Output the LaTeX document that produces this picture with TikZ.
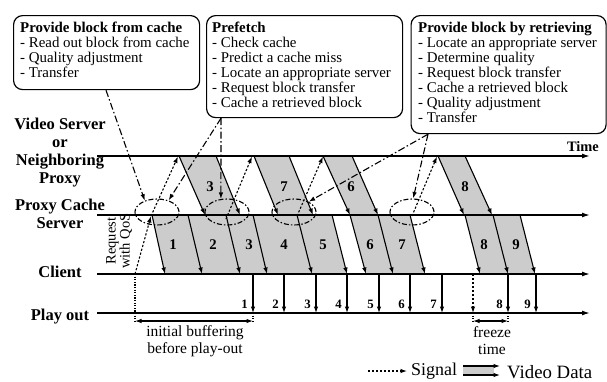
\documentclass[tikz,border=0pt]{standalone}
\usepackage{fontspec}
\setmainfont{Liberation Serif}
\usetikzlibrary{arrows.meta,shapes.geometric}
\begin{document}
\begin{tikzpicture}[x=1bp,y=-1bp,
  tip/.style={-{Latex[length=6.5bp,width=4.5bp]}},
  timeline/.style={line width=1.4bp,-{Latex[length=8bp,width=5bp]}},
  edgearrow/.style={line width=1.1bp,tip},
  bandfill/.style={fill=black!20},
  signal/.style={line width=1.1bp,dash pattern=on 2.2bp off 1.8bp,tip},
  dotline/.style={line width=1.1bp,dash pattern=on 1.2bp off 1.4bp},
  pointer/.style={line width=1.1bp,dash pattern=on 7bp off 2.5bp on 1.5bp off 2.5bp,tip},
  spot/.style={ellipse,draw,line width=1.1bp,dash pattern=on 5bp off 2bp on 1.5bp off 2bp,minimum width=44bp,minimum height=26bp,inner sep=0pt},
  callout/.style={draw,line width=1.2bp,rounded corners=9bp,anchor=north west,inner sep=0pt},
  boxtext/.style={anchor=north west,align=left,inner sep=0pt,font=\fontsize{14.9bp}{15bp}\selectfont},
  lab/.style={anchor=base,font=\fontsize{16.5bp}{18bp}\selectfont\bfseries},
  num/.style={font=\fontsize{14.8bp}{15bp}\selectfont\bfseries},
  pnum/.style={font=\fontsize{12.8bp}{15bp}\selectfont\bfseries},
  note/.style={font=\fontsize{15.5bp}{17bp}\selectfont,align=center},
  dbl/.style={line width=1.1bp,{Latex[length=6.5bp,width=4.5bp]}-{Latex[length=6.5bp,width=4.5bp]}},
]
\useasboundingbox (0,0) rectangle (607,381);

% ---- shaded video data bands ----
\foreach \a/\b/\c/\d in {179/216/240/205, 254/289/313/278, 323/352/378/350, 438/465/492/464}
  \fill[bandfill] (\a,156) -- (\b,156) -- (\c,215) -- (\d,215) -- cycle;
\foreach \a/\b/\c/\d in {152/188/202/165, 188/226/240/202, 226/253/267/240, 253/297/312/267, 297/332/347/312, 350/378/393/366, 378/410/425/393, 465/493/508/480, 493/520/535/508}
  \fill[bandfill] (\a,215) -- (\b,215) -- (\c,274) -- (\d,274) -- cycle;

% ---- row labels ----
\node[lab] (l1) at (60,129) {Video Server};
\node[lab] (l2) at (60,147) {or};
\node[lab] (l3) at (60,165) {Neighboring};
\node[lab] (l4) at (60,183) {Proxy};
\node[lab] (l5) at (60,210) {Proxy Cache};
\node[lab] (l6) at (60,228) {Server};
\node[lab] (l7) at (60,277) {Client};
\node[lab] (l8) at (60,320) {Play out};
\node[anchor=base,font=\fontsize{14.4bp}{15bp}\selectfont\bfseries] (time) at (583,151.5) {Time};

% ---- time lines ----
\coordinate (vsA) at (97,156);  \coordinate (vsB) at (590,156);
\coordinate (pcA) at (97,215);  \coordinate (pcB) at (590,215);
\coordinate (clA) at (97,274);  \coordinate (clB) at (590,274);
\coordinate (poA) at (97,313);  \coordinate (poB) at (590,313);
\draw[timeline] (vsA) -- (vsB);
\draw[timeline] (pcA) -- (pcB);
\draw[timeline] (clA) -- (clB);
\draw[timeline] (poA) -- (poB);

% ---- band edges ----
\foreach \a/\b in {179/205,216/240,254/278,289/313,323/350,352/378,438/464,465/492}
  \draw[edgearrow] (\a,156) -- (\b,215);
\foreach \a/\b in {152/165,188/202,226/240,253/267,297/312,332/347,350/366,378/393,410/425,465/480,493/508,520/535}
  \draw[edgearrow] (\a,215) -- (\b,274);

% ---- block numbers ----
\foreach \x/\n in {210/3,284/7,351/6,465/8}
  \node[num] at (\x,187) {\n};
\foreach \x/\n in {173/1,213/2,249/3,284/4,323/5,370/6,402/7,484/8,516/9}
  \node[num] at (\x,245) {\n};

% ---- play out ----
\foreach \x/\n in {253/1,284/2,316/3,347/4,379/5,410/6,442/7,508/8,536/9}{
  \draw[edgearrow] (\x,274) -- (\x,313);
  \node[pnum] at (\x-8.5,304) {\n};
}

% ---- callout boxes ----
\node[callout,minimum width=186bp,minimum height=74bp] (box1) at (13,15) {};
\node[callout,minimum width=196bp,minimum height=102bp] (box2) at (206,15) {};
\node[callout,minimum width=195bp,minimum height=118bp] (box3) at (410.5,15) {};
\node[boxtext] (t1) at (20,22) {\textbf{Provide block from cache}\\- Read out block from cache\\- Quality adjustment\\- Transfer};
\node[boxtext] (t2) at (212,22) {\textbf{Prefetch}\\- Check cache\\- Predict a cache miss\\- Locate an appropriate server\\- Request block transfer\\- Cache a retrieved block};
\node[boxtext] (t3) at (418,22) {\textbf{Provide block by retrieving}\\- Locate an appropriate server\\- Determine quality\\- Request block transfer\\- Cache a retrieved block\\- Quality adjustment\\- Transfer};

% ---- cache spots ----
\node[spot] (e1) at (157,212) {};
\node[spot] (e2) at (227,212) {};
\node[spot] (e3) at (294,212) {};
\node[spot] (e4) at (412,212) {};

% ---- pointers from boxes ----
\coordinate (b1p) at ([xshift=93bp]box1.south west);
\coordinate (b2p) at ([xshift=15bp]box2.south west);
\coordinate (b3p) at ([xshift=17.5bp]box3.south west);
\draw[pointer] (b1p) -- (e1.137);
\draw[pointer] (b2p) -- (e1.45);
\draw[pointer] (b2p) -- (e2.115);
\draw[pointer] (b3p) -- (e3.35);
\draw[pointer] (b3p) -- (e4.85);

% ---- signals ----
\coordinate (req) at (135,274);
\coordinate (q1) at (151,216);
\coordinate (sv1) at (178,156.5);
\coordinate (q2) at (226,219);
\coordinate (sv2) at (252,156.5);
\coordinate (q3) at (297,216);
\coordinate (sv3) at (323,156.5);
\coordinate (q4) at (412,216);
\coordinate (sv4) at (437,156.5);
\draw[signal] (req) -- (q1);
\draw[signal] (q1) -- (sv1);
\draw[signal] (q2) -- (sv2);
\draw[signal] (q3) -- (sv3);
\draw[signal] (q4) -- (sv4);
\node[rotate=90,font=\fontsize{14.5bp}{13bp}\selectfont,align=center] (qos) at (119,241) {Request\\with QoS};

% ---- buffering and freeze ----
\coordinate (ib0) at (135,323);
\coordinate (ib1) at (253,323);
\coordinate (fz0) at (473,323);
\coordinate (fz1) at (508,323);
\draw[dotline] (req) -- (ib0);
\draw[dotline] (253,313) -- (ib1);
\draw[signal] (473,274) -- (473,313);
\draw[dotline] (473,313) -- (fz0);
\draw[dotline] (508,313) -- (fz1);
\draw[dbl] (135,321) -- (253,321);
\draw[dbl] (473,321) -- (508,321);
\node[note] (ibl) at (195,341) {initial buffering\\before play-out};
\node[note] (fzl) at (492,341) {freeze\\time};

% ---- legend ----
\coordinate (lgA) at (368,371);
\coordinate (lgB) at (407,371);
\draw[signal] (lgA) -- (lgB);
\node[anchor=base west,inner sep=0pt,font=\fontsize{18bp}{18bp}\selectfont] (lsig) at (411,375.5) {Signal};
\fill[bandfill] (463,366) rectangle (494,375);
\draw[edgearrow] (463,366) -- (500,366);
\draw[edgearrow] (463,375) -- (500,375);
\node[anchor=base west,inner sep=0pt,font=\fontsize{18.8bp}{19bp}\selectfont] (lvid) at (507,378) {Video Data};
\end{tikzpicture}
\end{document}
